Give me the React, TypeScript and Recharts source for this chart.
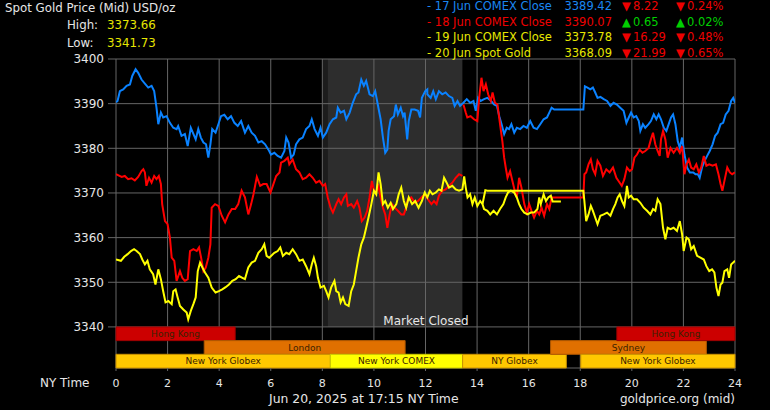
import {
  CartesianGrid,
  Line,
  LineChart,
  ReferenceArea,
  XAxis,
  YAxis,
} from "recharts";

// hours (NY time) and prices
const hourTicks = [0, 2, 4, 6, 8, 10, 12, 14, 16, 18, 20, 22, 24];
const priceTicks = [3340, 3350, 3360, 3370, 3380, 3390, 3400];

const jun17: [number, number][] = [
  [0, 3390.3], [0.06, 3390.6], [0.15, 3392.8], [0.28, 3393.2], [0.41, 3394], [0.54, 3394.3],
  [0.63, 3396.2], [0.76, 3397.7], [0.86, 3396.9], [0.99, 3395.4], [1.12, 3394.5], [1.25, 3393.6],
  [1.38, 3394], [1.48, 3392.8], [1.57, 3389.1], [1.64, 3385.4], [1.74, 3388], [1.83, 3386.9],
  [1.96, 3387.2], [2.09, 3385.7], [2.22, 3384.6], [2.35, 3384.3], [2.41, 3385], [2.54, 3382.8],
  [2.67, 3383.2], [2.78, 3380.5], [2.9, 3384.6], [2.98, 3383.5], [3.09, 3382], [3.19, 3384.3],
  [3.29, 3382.4], [3.39, 3381.3], [3.49, 3380.9], [3.58, 3377.9], [3.66, 3380.9], [3.73, 3384.3],
  [3.86, 3383.5], [3.97, 3385.4], [4.07, 3387.2], [4.2, 3387.5], [4.33, 3386.5], [4.46, 3387.2],
  [4.59, 3385.7], [4.72, 3385], [4.85, 3386.1], [5.0, 3383.5], [5.13, 3385], [5.26, 3383.5],
  [5.39, 3382.8], [5.52, 3381.3], [5.65, 3381.6], [5.78, 3380.9], [5.91, 3379.7], [6.01, 3378.6],
  [6.14, 3379], [6.27, 3378.3], [6.4, 3377.9], [6.53, 3379.4], [6.6, 3382.4], [6.69, 3381.3],
  [6.79, 3377.9], [6.89, 3378.6], [6.98, 3380.9], [7.11, 3382], [7.24, 3382.4], [7.37, 3384.3],
  [7.5, 3385], [7.59, 3386.5], [7.7, 3384.3], [7.83, 3382.8], [7.93, 3384.6], [8.02, 3382.4],
  [8.15, 3383.5], [8.28, 3385.4], [8.41, 3386.5], [8.54, 3386.9], [8.6, 3389.1], [8.71, 3388],
  [8.84, 3388.4], [8.93, 3386.5], [9.06, 3388], [9.18, 3390.2], [9.31, 3392.1], [9.4, 3392.5],
  [9.51, 3395.4], [9.61, 3394], [9.7, 3395.1], [9.83, 3392.1], [9.96, 3391.7], [10.05, 3392.8],
  [10.15, 3389.8], [10.26, 3386.5], [10.35, 3382.4], [10.44, 3379], [10.52, 3379.7], [10.57, 3383.9],
  [10.65, 3386.5], [10.78, 3387.2], [10.85, 3389.8], [10.93, 3387.6], [11.04, 3389.1], [11.13, 3387.2],
  [11.19, 3388], [11.29, 3382], [11.35, 3386.1], [11.45, 3388.7], [11.58, 3388.7], [11.71, 3388.4],
  [11.79, 3386.9], [11.86, 3391.3], [11.99, 3392.8], [12.07, 3393.2], [12.07, 3392.1], [12.2, 3391.3],
  [12.3, 3392.8], [12.4, 3391], [12.52, 3392.8], [12.65, 3392.1], [12.78, 3392.5], [12.91, 3391.7],
  [13.04, 3391.3], [13.13, 3389.5], [13.24, 3390.6], [13.34, 3389.5], [13.47, 3390.2], [13.6, 3391],
  [13.73, 3390.2], [13.86, 3390.6], [13.95, 3388.4], [14.04, 3391.3], [14.14, 3390.6], [14.27, 3391],
  [14.4, 3391.3], [14.53, 3390.7], [14.66, 3389.8], [14.77, 3389.5], [14.86, 3387.2], [14.95, 3385.4],
  [15.05, 3383.2], [15.15, 3384.6], [15.24, 3384.3], [15.33, 3385.4], [15.44, 3383.5], [15.54, 3384.6],
  [15.67, 3384.3], [15.8, 3385], [15.93, 3384.6], [16.06, 3386.1], [16.19, 3384.6], [16.32, 3384.3],
  [16.45, 3385.4], [16.58, 3386.5], [16.71, 3386.9], [16.8, 3388], [16.89, 3389.1], [16.99, 3388.7],
  [18.12, 3388.7], [18.18, 3393.9], [18.28, 3393.6], [18.39, 3393.2], [18.49, 3393.6], [18.58, 3392.5],
  [18.67, 3391.3], [18.78, 3391.5], [18.91, 3391], [19.04, 3390.6], [19.17, 3389.5], [19.29, 3390.2],
  [19.42, 3389.8], [19.55, 3389.1], [19.68, 3388.4], [19.79, 3385.7], [19.88, 3386.9], [19.97, 3388],
  [20.07, 3386.9], [20.17, 3387.2], [20.27, 3386.1], [20.33, 3383.9], [20.43, 3385.4], [20.52, 3384.6],
  [20.65, 3385.4], [20.74, 3386.1], [20.85, 3387.6], [20.95, 3386.5], [21.04, 3387.6], [21.13, 3386.5],
  [21.24, 3384.6], [21.34, 3383.9], [21.43, 3385.4], [21.52, 3386.9], [21.6, 3387.6], [21.69, 3385.4],
  [21.78, 3381.6], [21.86, 3380.1], [21.95, 3382.4], [22.04, 3378.6], [22.14, 3375.7], [22.25, 3374.6],
  [22.38, 3374.6], [22.47, 3374.2], [22.56, 3374.2], [22.63, 3373.4], [22.72, 3375.7], [22.82, 3377.2],
  [22.92, 3378.3], [23.02, 3379.4], [23.13, 3380.9], [23.23, 3382.8], [23.33, 3383.5], [23.44, 3385.4],
  [23.54, 3385.7], [23.64, 3387.6], [23.75, 3388.4], [23.85, 3390.6], [23.93, 3391.3], [24, 3390.2],
];

const jun18: [number, number | null][] = [
  [0, 3374.2], [0.22, 3373.6], [0.34, 3373.8], [0.47, 3373.1], [0.6, 3373.3], [0.73, 3372.8],
  [0.86, 3373.6], [0.99, 3374.9], [1.06, 3375.3], [1.12, 3374.6], [1.18, 3371.6], [1.28, 3373.4],
  [1.38, 3372.3], [1.48, 3373.8], [1.57, 3373.1], [1.66, 3373.8], [1.74, 3372], [1.79, 3367.5],
  [1.9, 3363.7], [2.0, 3363], [2.09, 3360], [2.16, 3355.5], [2.26, 3354.8], [2.35, 3350.3],
  [2.48, 3352.5], [2.57, 3351], [2.67, 3350.3], [2.78, 3350.7], [2.87, 3357], [3.0, 3357.4],
  [3.13, 3357], [3.22, 3357.8], [3.3, 3355.5], [3.39, 3352.5], [3.48, 3353.3], [3.58, 3355.5],
  [3.66, 3358.5], [3.71, 3366.7], [3.84, 3367.5], [3.97, 3367.1], [4.1, 3364.9], [4.23, 3363.4],
  [4.36, 3365.2], [4.49, 3366.4], [4.62, 3366.4], [4.74, 3367.5], [4.87, 3370.5], [5.0, 3369],
  [5.13, 3365.2], [5.24, 3367.5], [5.33, 3369.7], [5.46, 3373.6], [5.59, 3371.6], [5.71, 3372],
  [5.84, 3372], [5.99, 3370.1], [6.08, 3371.6], [6.21, 3373.8], [6.34, 3374.6], [6.4, 3376.8],
  [6.53, 3377.2], [6.66, 3377.9], [6.72, 3376.4], [6.85, 3377.5], [6.98, 3375.3], [7.11, 3374.6],
  [7.24, 3373.1], [7.37, 3373.4], [7.5, 3374.2], [7.63, 3373.4], [7.76, 3372.3], [7.89, 3372.7],
  [8.02, 3371.6], [8.11, 3372], [8.21, 3369], [8.32, 3366.7], [8.41, 3365.6], [8.54, 3367.5],
  [8.63, 3368.6], [8.73, 3367.5], [8.84, 3369], [8.93, 3369.7], [8.99, 3367.1], [9.12, 3367.5],
  [9.22, 3366.7], [9.35, 3368.2], [9.44, 3366.7], [9.53, 3363.7], [9.64, 3364.5], [9.74, 3366],
  [9.83, 3369], [9.92, 3372.7], [10.0, 3370.5], [10.09, 3370.1], [10.16, 3372], [10.26, 3369],
  [10.35, 3366.7], [10.44, 3365.2], [10.52, 3362.2], [10.61, 3365.2], [10.7, 3367.5], [10.8, 3366.7],
  [10.93, 3366], [11.06, 3365.2], [11.16, 3365.2], [11.25, 3366.7], [11.32, 3368.6], [11.45, 3369],
  [11.58, 3367.8], [11.71, 3368.2], [11.84, 3369], [11.97, 3369.7], [12.14, 3368.2], [12.23, 3367.5],
  [12.33, 3368.2], [12.43, 3367.5], [12.52, 3369.4], [12.65, 3370.5], [12.78, 3370.8], [12.91, 3371.6],
  [13.04, 3372.3], [13.17, 3373.4], [13.3, 3374.2], [13.43, 3373.8], [13.45, null],
  [13.47, 3389.8], [13.56, 3388], [13.62, 3386.9], [13.75, 3387.2], [13.88, 3386.5], [14.01, 3386.1],
  [14.08, 3391.3], [14.17, 3395.8], [14.25, 3392.8], [14.34, 3394.3], [14.43, 3392.1], [14.53, 3390.6],
  [14.6, 3392.5], [14.69, 3390.2], [14.79, 3389.8], [14.89, 3385.4], [14.98, 3381.6], [15.05, 3377.9],
  [15.11, 3375.7], [15.18, 3373.4], [15.28, 3374.9], [15.37, 3372.7], [15.46, 3370.5], [15.54, 3369],
  [15.63, 3373.4], [15.72, 3371.2], [15.83, 3367.5], [15.93, 3365.6], [16.02, 3367.5], [16.11, 3366],
  [16.21, 3364.5], [16.32, 3366], [16.41, 3365.2], [16.5, 3366.7], [16.6, 3364.9], [16.71, 3367.5],
  [16.8, 3366.4], [16.89, 3369], [18.12, 3369], [18.16, 3374.2], [18.23, 3374.6], [18.32, 3376.4],
  [18.41, 3377.5], [18.49, 3375.3], [18.58, 3374.2], [18.67, 3377.2], [18.78, 3376.1], [18.88, 3373.8],
  [19.01, 3375.3], [19.14, 3374.6], [19.27, 3375.7], [19.4, 3373.4], [19.53, 3372.3], [19.61, 3371.6],
  [19.71, 3373.1], [19.81, 3375.7], [19.92, 3374.9], [20.01, 3375.3], [20.1, 3377.9], [20.2, 3378.6],
  [20.3, 3379.7], [20.41, 3379], [20.52, 3379.4], [20.65, 3380.1], [20.74, 3382], [20.82, 3383.5],
  [20.91, 3380.9], [21.0, 3379.4], [21.08, 3378.3], [21.13, 3382], [21.21, 3383.9], [21.3, 3382],
  [21.39, 3377.9], [21.5, 3380.1], [21.62, 3379], [21.75, 3380.1], [21.86, 3379], [21.95, 3380.5],
  [22.04, 3374.2], [22.12, 3376.4], [22.21, 3377.5], [22.3, 3375.7], [22.4, 3375.3], [22.5, 3376.4],
  [22.6, 3374.6], [22.69, 3375.7], [22.79, 3378.3], [22.89, 3376.1], [23.0, 3376.4], [23.13, 3376.1],
  [23.26, 3376.4], [23.36, 3374.2], [23.44, 3372], [23.51, 3370.5], [23.59, 3372.7], [23.7, 3375.7],
  [23.8, 3374.6], [23.89, 3374.2], [24, 3374.6],
];

const jun19: [number, number][] = [
  [14.21, 3367.5], [14.32, 3370.6], [14.4, 3370.5], [18.12, 3370.5], [18.16, 3368.2], [18.23, 3363.7],
  [18.32, 3365.2], [18.41, 3367.1], [18.49, 3366], [18.58, 3364.5], [18.67, 3363], [18.78, 3364.9],
  [18.91, 3365.2], [19.04, 3365.6], [19.17, 3364.9], [19.27, 3366.4], [19.36, 3367.5], [19.45, 3369],
  [19.53, 3369.7], [19.62, 3368.2], [19.71, 3367.1], [19.79, 3370.5], [19.81, 3371.6], [19.88, 3369],
  [19.97, 3369.4], [20.07, 3368.6], [20.2, 3368.6], [20.33, 3367.8], [20.46, 3366.7], [20.59, 3366],
  [20.72, 3365.2], [20.82, 3366.4], [20.91, 3366], [21.0, 3368.6], [21.11, 3367.5], [21.21, 3362.2],
  [21.3, 3359.6], [21.39, 3362.2], [21.5, 3361.9], [21.62, 3362.2], [21.75, 3361.5], [21.86, 3363.7],
  [21.95, 3360.7], [22.01, 3357], [22.12, 3360], [22.21, 3359.6], [22.3, 3357.4], [22.4, 3358.1],
  [22.53, 3355.9], [22.66, 3355.5], [22.79, 3355.1], [22.89, 3353.6], [23.0, 3352.5], [23.11, 3352.9],
  [23.2, 3352.2], [23.28, 3348.8], [23.36, 3346.9], [23.44, 3349.5], [23.51, 3349.9], [23.59, 3352.5],
  [23.7, 3352.9], [23.77, 3351], [23.85, 3354], [23.93, 3354.4], [24, 3354.8],
];

const jun20: [number, number][] = [
  [0, 3355.1], [0.19, 3354.8], [0.32, 3355.7], [0.45, 3356.3], [0.58, 3357], [0.7, 3357.4],
  [0.8, 3357], [0.93, 3356.3], [1.02, 3355.1], [1.12, 3354], [1.22, 3354.8], [1.31, 3352.9],
  [1.44, 3351.8], [1.53, 3349.5], [1.64, 3352.9], [1.74, 3350.7], [1.83, 3348], [1.92, 3345.5],
  [2.03, 3345.8], [2.16, 3345.1], [2.22, 3348], [2.31, 3348.4], [2.39, 3346.6], [2.48, 3344.7],
  [2.61, 3343.9], [2.74, 3343.2], [2.8, 3341.7], [2.9, 3343.6], [3.0, 3345.1], [3.09, 3346.6],
  [3.17, 3352.5], [3.26, 3354.4], [3.35, 3353.3], [3.45, 3352.2], [3.58, 3351], [3.71, 3348.8],
  [3.86, 3347.7], [3.99, 3348], [4.12, 3348.4], [4.25, 3348.9], [4.38, 3349.5], [4.51, 3350.3],
  [4.64, 3350.7], [4.77, 3351.4], [4.9, 3351], [5.0, 3350.7], [5.13, 3353.3], [5.26, 3354.4],
  [5.39, 3354.8], [5.52, 3356.6], [5.65, 3357.4], [5.75, 3358.5], [5.84, 3355.9], [5.94, 3355.5],
  [6.01, 3355.9], [6.14, 3356.6], [6.27, 3357], [6.37, 3357.8], [6.47, 3355.9], [6.6, 3356.6],
  [6.72, 3356.3], [6.85, 3357.4], [6.98, 3356.3], [7.11, 3354.8], [7.24, 3355.1], [7.37, 3353.6],
  [7.5, 3351.8], [7.59, 3354], [7.67, 3355.5], [7.76, 3353.6], [7.83, 3351], [7.93, 3348.8],
  [8.06, 3349.2], [8.15, 3348], [8.24, 3346.6], [8.34, 3348.8], [8.47, 3350.3], [8.54, 3348],
  [8.63, 3347.7], [8.71, 3345.5], [8.8, 3346.6], [8.89, 3345.1], [9.02, 3344.7], [9.12, 3348],
  [9.22, 3349.5], [9.31, 3352.5], [9.4, 3355.5], [9.51, 3358.5], [9.61, 3360], [9.7, 3362.2],
  [9.79, 3364.5], [9.9, 3367.5], [10.0, 3370.5], [10.09, 3369.7], [10.18, 3374.6], [10.26, 3372],
  [10.35, 3367.5], [10.44, 3368.2], [10.54, 3366.7], [10.65, 3367.8], [10.74, 3366.4], [10.87, 3367.5],
  [10.96, 3369.7], [11.06, 3371.2], [11.16, 3368.2], [11.25, 3366.7], [11.35, 3369], [11.48, 3367.5],
  [11.6, 3368.2], [11.73, 3366.7], [11.86, 3368.2], [11.97, 3370.1], [12.07, 3369], [12.17, 3370.5],
  [12.27, 3369.7], [12.4, 3370.1], [12.52, 3370.8], [12.62, 3370.5], [12.72, 3373.4], [12.82, 3372.3],
  [12.91, 3371.2], [13.04, 3371.6], [13.17, 3370.8], [13.3, 3370.5], [13.43, 3370.8], [13.5, 3373.7],
  [13.56, 3371.2], [13.63, 3369], [13.73, 3369.7], [13.82, 3367.5], [13.91, 3369], [14.01, 3367.1],
  [14.12, 3368.2], [14.21, 3367.5], [14.27, 3366.4], [14.4, 3366], [14.51, 3365.2], [14.64, 3366],
  [14.77, 3365.2], [14.89, 3366.4], [15.02, 3367.5], [15.11, 3369], [15.2, 3370.1], [15.31, 3370.5],
  [15.44, 3370.1], [15.54, 3369], [15.63, 3367.5], [15.72, 3366.4], [15.83, 3365.6], [15.96, 3365.2],
  [16.08, 3365.6], [16.21, 3365.6], [16.34, 3366.4], [16.41, 3369], [16.47, 3367.5], [16.58, 3369.7],
  [16.67, 3368.2], [16.76, 3369], [16.86, 3369.4], [16.93, 3368.1], [17.25, 3368.1],
];

// trading sessions shown under the plot (row 0 = top)
const sessionNames = ["Hong Kong", "London", "New York Globex", "New York COMEX", "NY Globex", "Sydney", "Hong Kong", "New York Globex"];
const sessionFrom = [0, 3.42, 0, 8.31, 13.44, 16.85, 19.42, 18.02];
const sessionTo = [4.62, 11.21, 8.31, 13.44, 17.46, 22.89, 24, 24];
const sessionRow = [0, 1, 2, 2, 2, 1, 0, 2];

const closedFrom = 8.2;
const closedTo = 13.43;

const legendLabels = ["17 Jun COMEX Close", "18 Jun COMEX Close", "19 Jun COMEX Close", "20 Jun Spot Gold"];
const legendPrices = ["3389.42", "3390.07", "3373.78", "3368.09"];
const legendChanges = ["8.22", "0.65", "16.29", "21.99"];
const legendPercents = ["0.24%", "0.02%", "0.48%", "0.65%"];
const legendUp = [false, true, false, false];

const BLUE = "#0a82ff";
const RED = "#ff0000";
const YELLOW = "#ffff00";
const legendColors = ["#1a86f0", "#ee0000", "#e6e600", "#e6e600"];
const rowFill = ["#cc0000", "#e07000", "#ffc800"];
const rowStroke = ["#a00000", "#b05800", "#c89000"];
const FONT = "'DejaVu Sans', Verdana, sans-serif";
const GRID = "#666";
const ROW_H = 3.067;

const pts = (arr: [number, number | null][]) => arr.map(([h, v]) => ({ h, v }));

export default function App() {
  return (
    <div style={{ position: "relative", width: 770, height: 410, background: "#000", fontFamily: FONT }}>
      <style>{`body{margin:0;background:#000}`}</style>
      <LineChart
        width={770}
        height={410}
        margin={{ top: 59, right: 35, left: 66, bottom: 12 }}
      >
        <ReferenceArea x1={8.0} x2={closedFrom} y1={3340} y2={3400} fill="#1c1c1c" fillOpacity={1} zIndex={-200} />
        <ReferenceArea x1={closedFrom} x2={closedTo} y1={3340} y2={3400} fill="#2d2d2d" fillOpacity={1} zIndex={-200} />
        <CartesianGrid stroke={GRID} zIndex={-100} />
        <XAxis
          dataKey="h"
          type="number"
          domain={[0, 24]}
          ticks={hourTicks}
          allowDataOverflow
          axisLine={false}
          tickLine={{ stroke: GRID }}
          tickSize={3}
          tickMargin={8}
          height={30}
          tick={{ fill: "#e6e6e6", fontSize: 11, fontFamily: FONT }}
        />
        <YAxis
          type="number"
          domain={[3330.8, 3400]}
          ticks={priceTicks}
          allowDataOverflow
          axisLine={false}
          tickLine={{ stroke: GRID }}
          tickSize={8}
          tickMargin={4}
          width={50}
          tick={{ fill: "#e6e6e6", fontSize: 12, fontFamily: FONT }}
        />
        {sessionNames.map((name, i) => {
          const top = 3340 - sessionRow[i] * ROW_H;
          const isComex = name.includes("COMEX");
          return (
            <ReferenceArea
              key={i}
              x1={sessionFrom[i]}
              x2={sessionTo[i]}
              y1={Math.max(top - ROW_H, 3330.8)}
              y2={top}
              ifOverflow="visible"
              fill={isComex ? "#ffff00" : rowFill[sessionRow[i]]}
              fillOpacity={1}
              stroke={isComex ? "#c8c800" : rowStroke[sessionRow[i]]}
              zIndex={-50}
              label={{ value: name, position: "center", fill: "#3a2200", fontSize: 9, fontFamily: FONT }}
            />
          );
        })}
        <Line data={pts(jun17)} dataKey="v" type="linear" stroke={BLUE} strokeWidth={2} dot={false} isAnimationActive={false} />
        <Line data={pts(jun18)} dataKey="v" type="linear" stroke={RED} strokeWidth={2} dot={false} isAnimationActive={false} />
        <Line data={pts(jun19)} dataKey="v" type="linear" stroke={YELLOW} strokeWidth={2} dot={false} isAnimationActive={false} />
        <Line data={pts(jun20)} dataKey="v" type="linear" stroke={YELLOW} strokeWidth={2} dot={false} isAnimationActive={false} />
      </LineChart>

      <svg width={770} height={410} style={{ position: "absolute", left: 0, top: 0, pointerEvents: "none" }} fontFamily={FONT}>
        <text x={5} y={12.3} fontSize={11.8} fill="#e6e6e6">Spot Gold Price (Mid) USD/oz</text>
        <text x={67} y={29.3} fontSize={11.8} fill="#e6e6e6">High:</text>
        <text x={107} y={29.3} fontSize={11.8} fill="#e6e600">3373.66</text>
        <text x={67} y={47} fontSize={11.8} fill="#e6e6e6">Low:</text>
        <text x={107} y={47} fontSize={11.8} fill="#e6e600">3341.73</text>

        {legendLabels.map((label, i) => {
          const y = 10 + i * 15.7;
          const changeColor = legendUp[i] ? "#00d000" : "#ee0000";
          const arrow = legendUp[i] ? "▲" : "▼";
          return (
            <g key={label} fontSize={11.5}>
              <text x={427} y={y} fill={legendColors[i]}>- {label}</text>
              <text x={612} y={y} fill={legendColors[i]} textAnchor="end">{legendPrices[i]}</text>
              <text x={622} y={y} fill={changeColor}>{arrow}</text>
              <text x={633} y={y} fill={changeColor}>{legendChanges[i]}</text>
              <text x={676} y={y} fill={changeColor}>{arrow}</text>
              <text x={687} y={y} fill={changeColor}>{legendPercents[i]}</text>
            </g>
          );
        })}

        <text x={426} y={325} fontSize={12} fill="#e6e6e6" textAnchor="middle">Market Closed</text>
        <text x={40} y={386.7} fontSize={12} fill="#e6e6e6">NY Time</text>
        <text x={269} y={403} fontSize={12.4} fill="#e6e6e6">Jun 20, 2025 at 17:15 NY Time</text>
        <text x={735} y={403} fontSize={12} fill="#e6e6e6" textAnchor="end">goldprice.org (mid)</text>
      </svg>
    </div>
  );
}
